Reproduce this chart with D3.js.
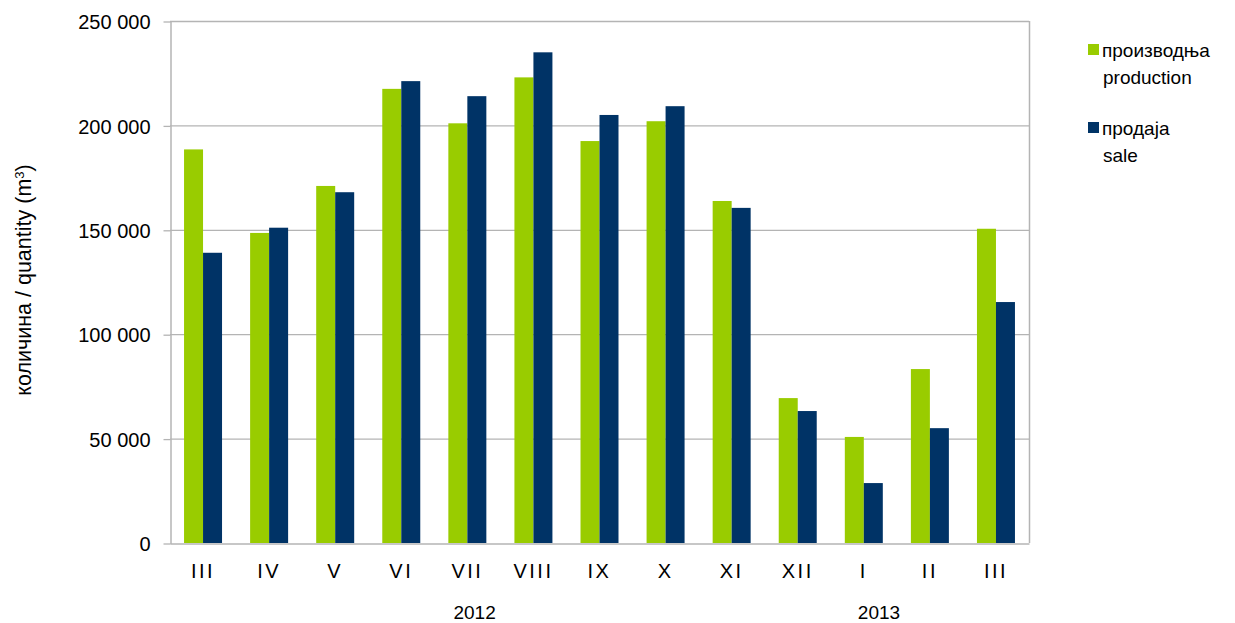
<!DOCTYPE html>
<html>
<head>
<meta charset="utf-8">
<script src="https://cdn.jsdelivr.net/npm/d3@7"></script>
<style>
  body { margin: 0; background: #fff; }
  text { font-family: "Liberation Sans", Arial, sans-serif; fill: #000; }
</style>
</head>
<body>
<div class="chart"></div>
<script>
var width = 1235
var height = 623

// months, March 2012 - March 2013
const months = ["III", "IV", "V", "VI", "VII", "VIII", "IX", "X", "XI", "XII", "I", "II", "III"]
const production = [188500, 148500, 171000, 217500, 201000, 223000, 192500, 202000, 163800, 69400, 50800, 83300, 150500]
const sale = [139000, 151000, 168000, 221200, 214000, 235000, 205000, 209200, 160500, 63200, 28700, 55000, 115400]
const yTicks = [0, 50000, 100000, 150000, 200000, 250000]
// year labels, placed at a fractional category index
const years = [{label: "2012", at: 4.61}, {label: "2013", at: 10.73}]
const seriesNames = [["производња", "production"], ["продаја", "sale"]]
const colors = ["#99cc00", "#003366"]

var plotLeft = 170, plotRight = 1029, plotTop = 21, plotBottom = 543

var svg = d3.select(".chart")
  .append("svg")
  .attr("width", width)
  .attr("height", height)

var x = d3.scaleBand()
  .domain(d3.range(months.length))
  .range([plotLeft, plotRight])
  .paddingInner(0.425)
  .paddingOuter(0.2125)

var step = x.step()

var xSub = d3.scaleBand()
  .domain([0, 1])
  .range([0, x.bandwidth()])

var y = d3.scaleLinear()
  .domain([0, 250000])
  .range([plotBottom, plotTop])

var fmt = d => d3.format(",")(d).replace(/,/g, " ")

// grid
svg.append("g")
  .selectAll("line")
  .data(yTicks.slice(1))
  .enter()
  .append("line")
  .attr("x1", plotLeft)
  .attr("x2", plotRight)
  .attr("y1", d => y(d) + 0.5)
  .attr("y2", d => y(d) + 0.5)
  .attr("stroke", "#b4b4b4")
  .attr("stroke-width", 1.3)

// right border
svg.append("line")
  .attr("x1", plotRight + 0.5).attr("x2", plotRight + 0.5)
  .attr("y1", plotTop).attr("y2", plotBottom)
  .attr("stroke", "#b4b4b4")
  .attr("stroke-width", 1.5)

// bars
var groups = svg.append("g")
  .selectAll("g")
  .data(months.map((m, i) => i))
  .enter()
  .append("g")
  .attr("transform", i => "translate(" + x(i) + ",0)")

groups.selectAll("rect")
  .data(i => [production[i], sale[i]])
  .enter()
  .append("rect")
  .attr("x", (d, j) => xSub(j))
  .attr("width", xSub.bandwidth())
  .attr("y", d => y(d))
  .attr("height", d => plotBottom - y(d))
  .attr("fill", (d, j) => colors[j])

// y axis
var yAxis = svg.append("g")
  .attr("transform", "translate(" + (plotLeft + 0.5) + ",0.5)")
  .call(d3.axisLeft(y).tickValues(yTicks).tickFormat(fmt).tickSizeInner(7).tickSizeOuter(0).tickPadding(13))
yAxis.select(".domain").attr("stroke", "#b4b4b4").attr("stroke-width", 1.5)
yAxis.selectAll(".tick line").attr("stroke", "#b4b4b4").attr("stroke-width", 1.3)
yAxis.selectAll("text").attr("font-size", 20).attr("dy", "0.36em")

// x axis
var xAxis = svg.append("g")
  .attr("transform", "translate(0," + (plotBottom + 0.5) + ")")
  .call(d3.axisBottom(x).tickFormat(i => months[i]).tickSize(0).tickPadding(20))
xAxis.select(".domain").attr("stroke", "#b4b4b4").attr("stroke-width", 1.5)
xAxis.selectAll("text").attr("font-size", 20).attr("letter-spacing", "2.5px").attr("dy", "0.71em")

// year labels
svg.append("g")
  .selectAll("text")
  .data(years)
  .enter()
  .append("text")
  .attr("x", d => plotLeft + d.at * step)
  .attr("y", 619)
  .attr("text-anchor", "middle")
  .attr("font-size", 19)
  .text(d => d.label)

// y title
svg.append("text")
  .attr("transform", "translate(31,280) rotate(-90)")
  .attr("text-anchor", "middle")
  .attr("font-size", 21.5)
  .html("количина / quantity (m<tspan baseline-shift='super' font-size='13'>3</tspan>)")

// legend
var legend = svg.append("g")
  .selectAll("g")
  .data(seriesNames)
  .enter()
  .append("g")
  .attr("transform", (d, i) => "translate(1088," + (44 + i * 78) + ")")

legend.append("rect")
  .attr("width", 11)
  .attr("height", 11)
  .attr("fill", (d, i) => colors[i])

legend.append("text")
  .attr("x", 14)
  .attr("y", 13)
  .attr("font-size", 19)
  .text(d => d[0])

legend.append("text")
  .attr("x", 15)
  .attr("y", 40)
  .attr("font-size", 19)
  .text(d => d[1])
</script>
</body>
</html>
